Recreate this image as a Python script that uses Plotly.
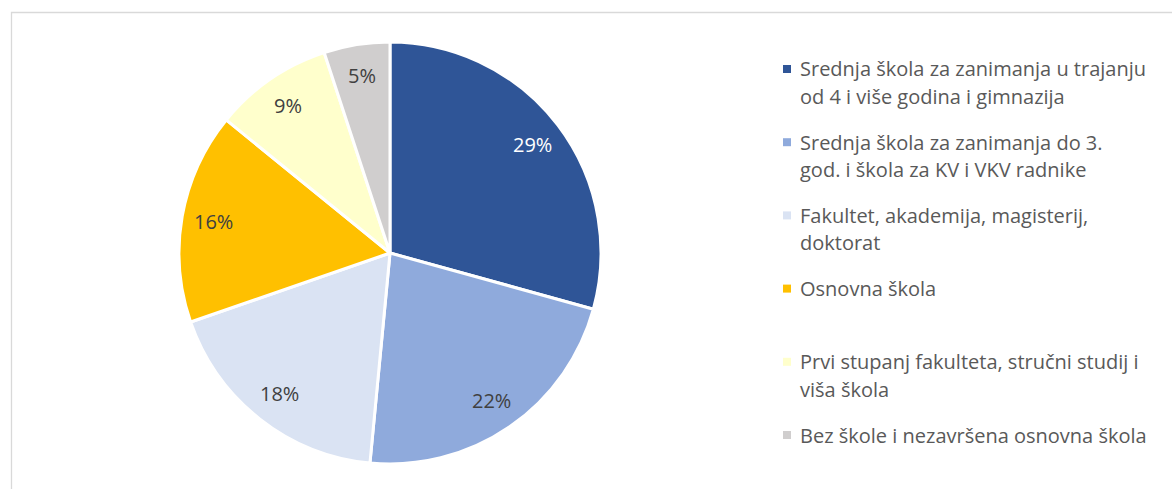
import math
import plotly.graph_objects as go

# Education level shares (%)
categories = [
    "Srednja škola za zanimanja u trajanju<br>od 4 i više godina i gimnazija",
    "Srednja škola za zanimanja do 3.<br>god. i škola za KV i VKV radnike",
    "Fakultet, akademija, magisterij,<br>doktorat",
    "Osnovna škola",
    "Prvi stupanj fakulteta, stručni studij i<br>viša škola",
    "Bez škole i nezavršena osnovna škola",
]
shares = [29, 22, 18, 16, 9, 5]
colors = ["#2F5597", "#8FAADC", "#DAE3F3", "#FFC000", "#FFFFCC", "#D0CECE"]
label_colors = ["#FFFFFF", "#404040", "#404040", "#404040", "#404040", "#404040"]

W, H = 1172, 489
FONT = "'Open Sans', Calibri, Carlito, sans-serif"

# pie geometry in pixels
CX, CY, R = 390, 253, 211

fig = go.Figure(
    go.Pie(
        labels=categories,
        values=shares,
        sort=False,
        direction="clockwise",
        rotation=0,
        marker=dict(colors=colors, line=dict(color="#FFFFFF", width=3)),
        textinfo="none",
        hoverinfo="label+value",
        showlegend=False,
        domain=dict(x=[(CX - R) / W, (CX + R) / W],
                    y=[1 - (CY + R) / H, 1 - (CY - R) / H]),
    )
)

annotations = []

# Data labels placed toward the outer part of each slice (mid-angle)
total = sum(shares)
cum = 0.0
for v, tc in zip(shares, label_colors):
    mid = (cum + v / 2) / total * 2 * math.pi
    cum += v
    r = 0.85 * R
    px = CX + r * math.sin(mid)
    py = CY - r * math.cos(mid)
    annotations.append(dict(
        x=px / W, y=1 - py / H, xref="paper", yref="paper",
        xanchor="center", yanchor="middle", showarrow=False,
        text=f"{v}%", font=dict(family=FONT, size=20, color=tc),
    ))

# Hand-laid legend on the right: evenly spaced entries
legend_x_marker = 787
legend_x_text = 798
first_row = 69
row_step = 73.2
line_step = 27.5
shapes = []
for i, (name, col) in enumerate(zip(categories, colors)):
    yc = first_row + i * row_step
    shapes.append(dict(
        type="rect", xref="paper", yref="paper",
        x0=(legend_x_marker - 4) / W, x1=(legend_x_marker + 4) / W,
        y0=1 - (yc + 4) / H, y1=1 - (yc - 4) / H,
        fillcolor=col, line=dict(width=0),
    ))
    for k, line in enumerate(name.split("<br>")):
        annotations.append(dict(
            x=legend_x_text / W, y=1 - (yc + k * line_step) / H,
            xref="paper", yref="paper", xanchor="left", yanchor="middle",
            text=line, showarrow=False, align="left",
            font=dict(family=FONT, size=20, color="#595959"),
        ))

# Light chart-area frame
shapes.append(dict(
    type="rect", xref="paper", yref="paper",
    x0=11.5 / W, x1=1.02, y0=-0.02, y1=1 - 12.5 / H,
    line=dict(color="#D9D9D9", width=1.3), fillcolor="rgba(0,0,0,0)", layer="below",
))

fig.update_layout(
    width=W, height=H,
    margin=dict(l=0, r=0, t=0, b=0),
    paper_bgcolor="#FFFFFF",
    plot_bgcolor="#FFFFFF",
    shapes=shapes,
    annotations=annotations,
    font=dict(family=FONT),
)

fig.write_html("out.html")
